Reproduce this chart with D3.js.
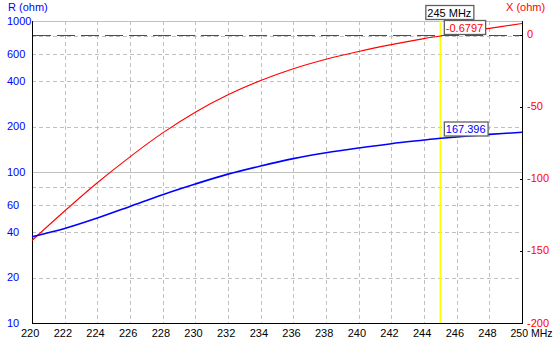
<!DOCTYPE html>
<html>
<head>
<meta charset="utf-8">
<script src="https://cdn.jsdelivr.net/npm/d3@7"></script>
<style>
  body { margin: 0; background: #fff; }
  svg { display: block; font-family: "Liberation Sans", Arial, sans-serif; font-size: 11px; }
</style>
</head>
<body>
<div id="chart"></div>
<script>
var freqs = [220, 222, 224, 226, 228, 230, 232, 234, 236, 238, 240, 242, 244, 245, 246, 248, 250];
var rValues = [37.3, 42.3, 49.6, 59.2, 70.8, 83.3, 96.8, 109.6, 122.6, 134.0, 144.2, 154.0, 162.8, 167.396, 170.6, 177.4, 183.2];
var xValues = [-142.7, -122.2, -102.6, -84.6, -68.0, -53.6, -41.5, -31.6, -23.4, -16.8, -11.4, -6.7, -2.5, -0.6797, 1.3, 4.6, 8.0];

var freqTicks = [220, 222, 224, 226, 228, 230, 232, 234, 236, 238, 240, 242, 244, 246, 248, 250];
var rTicks = [10, 20, 40, 60, 100, 200, 400, 600, 1000];
var rGridDashed = [20, 40, 60, 80, 200, 400, 600, 800];
var rGridSolid = [100, 1000];
var xTicks = [0, -50, -100, -150, -200];
var markerFreq = 245;

var width = 554,
    height = 339;

var svg = d3.select("#chart").append("svg")
  .attr("width", width)
  .attr("height", height)

var x = d3.scaleLinear().domain([220, 250]).range([32, 522]);
var yR = d3.scaleLog().domain([10, 1000]).range([323, 21]);
var yX = d3.scaleLinear().domain([-200, 9.72]).range([323, 21]);

function px(v) { return Math.round(v) + 0.5 }

// grid
svg.selectAll(".vgrid").data(freqTicks.filter(function(d) { return d > 220 && d < 250 }))
  .enter().append("line")
  .attr("x1", function(d) { return px(x(d)) })
  .attr("x2", function(d) { return px(x(d)) })
  .attr("y1", 21).attr("y2", 323)
  .attr("stroke", "#c0c0c0").attr("stroke-dasharray", "4,3")

svg.selectAll(".hgrid").data(rGridDashed)
  .enter().append("line")
  .attr("x1", 32).attr("x2", 522)
  .attr("y1", function(d) { return px(yR(d)) })
  .attr("y2", function(d) { return px(yR(d)) })
  .attr("stroke", "#c0c0c0").attr("stroke-dasharray", "4,3")

svg.selectAll(".hsolid").data(rGridSolid)
  .enter().append("line")
  .attr("x1", 32).attr("x2", 522)
  .attr("y1", function(d) { return px(yR(d)) })
  .attr("y2", function(d) { return px(yR(d)) })
  .attr("stroke", "#c0c0c0")

// zero reactance line
svg.append("line")
  .attr("x1", 33).attr("x2", 522)
  .attr("y1", px(yX(0))).attr("y2", px(yX(0)))
  .attr("stroke", "#ff0000").attr("stroke-width", 1)
  .attr("stroke-dasharray", "18,6")

// axes lines
svg.append("line").attr("x1", 32.5).attr("x2", 32.5).attr("y1", 21).attr("y2", 323.5).attr("stroke", "#000")
svg.append("line").attr("x1", 522.5).attr("x2", 522.5).attr("y1", 21).attr("y2", 323.5).attr("stroke", "#000")
svg.append("line").attr("x1", 32).attr("x2", 523).attr("y1", 323.5).attr("y2", 323.5).attr("stroke", "#000")

// right ticks
svg.selectAll(".xtick").data(xTicks)
  .enter().append("line")
  .attr("x1", 520).attr("x2", 523)
  .attr("y1", function(d) { return px(yX(d)) })
  .attr("y2", function(d) { return px(yX(d)) })
  .attr("stroke", "#000")

// marker
svg.append("line")
  .attr("x1", x(markerFreq)).attr("x2", x(markerFreq))
  .attr("y1", 21).attr("y2", 323)
  .attr("stroke", "#ffff00").attr("stroke-width", 1.6)

// curves
var lineR = d3.line()
  .x(function(d, i) { return x(freqs[i]) })
  .y(function(d) { return yR(d) })
  .curve(d3.curveCatmullRom)

var lineX = d3.line()
  .x(function(d, i) { return x(freqs[i]) })
  .y(function(d) { return yX(d) })
  .curve(d3.curveCatmullRom)

svg.append("path").attr("d", lineX(xValues))
  .attr("fill", "none").attr("stroke", "#ff0000").attr("stroke-width", 1.1)

svg.append("path").attr("d", lineR(rValues))
  .attr("fill", "none").attr("stroke", "#0000ff").attr("stroke-width", 1.6)

// tick labels
svg.selectAll(".rlabel").data(rTicks)
  .enter().append("text")
  .attr("x", 7).attr("y", function(d) { return yR(d) + 3.5 })
  .attr("fill", "#0000ff")
  .text(function(d) { return d })

svg.selectAll(".xlabel").data(xTicks)
  .enter().append("text")
  .attr("x", 527).attr("y", function(d) { return yX(d) + 3.5 })
  .attr("fill", "#ff0000")
  .text(function(d) { return d })

svg.selectAll(".flabel").data(freqTicks.filter(function(d) { return d < 250 }))
  .enter().append("text")
  .attr("x", function(d) { return x(d) - 11 }).attr("y", 337)
  .attr("fill", "#000")
  .text(function(d) { return d })

svg.append("text")
  .attr("x", x(250) - 11.5).attr("y", 337)
  .attr("textLength", 42).attr("lengthAdjust", "spacingAndGlyphs")
  .attr("fill", "#000")
  .text("250 MHz")

svg.append("text").attr("x", 8).attr("y", 11).attr("fill", "#0000ff").text("R (ohm)")
svg.append("text").attr("x", 506).attr("y", 11).attr("fill", "#ff0000").text("X (ohm)")

// marker boxes
function labelBox(left, top, str, color) {
  var g = svg.append("g")
  var rect = g.append("rect")
  var t = g.append("text").attr("x", left + 2).attr("y", top + 11.5).attr("fill", color).text(str)
  var w = t.node().getComputedTextLength()
  rect.attr("x", left + 0.5).attr("y", top + 0.5)
    .attr("width", w + 4).attr("height", 14)
    .attr("fill", "#fff").attr("stroke", "#606060").attr("stroke-width", 1.3)
}

var mi = freqs.indexOf(markerFreq)
var mx = x(markerFreq)
labelBox(mx - 15, 5, markerFreq + " MHz", "#000")
labelBox(mx + 3.5, Math.round(yX(xValues[mi])) - 16, String(xValues[mi]), "#ff0000")
labelBox(mx + 3.5, Math.round(yR(rValues[mi])) - 16.5, String(rValues[mi]), "#0000ff")
</script>
</body>
</html>
